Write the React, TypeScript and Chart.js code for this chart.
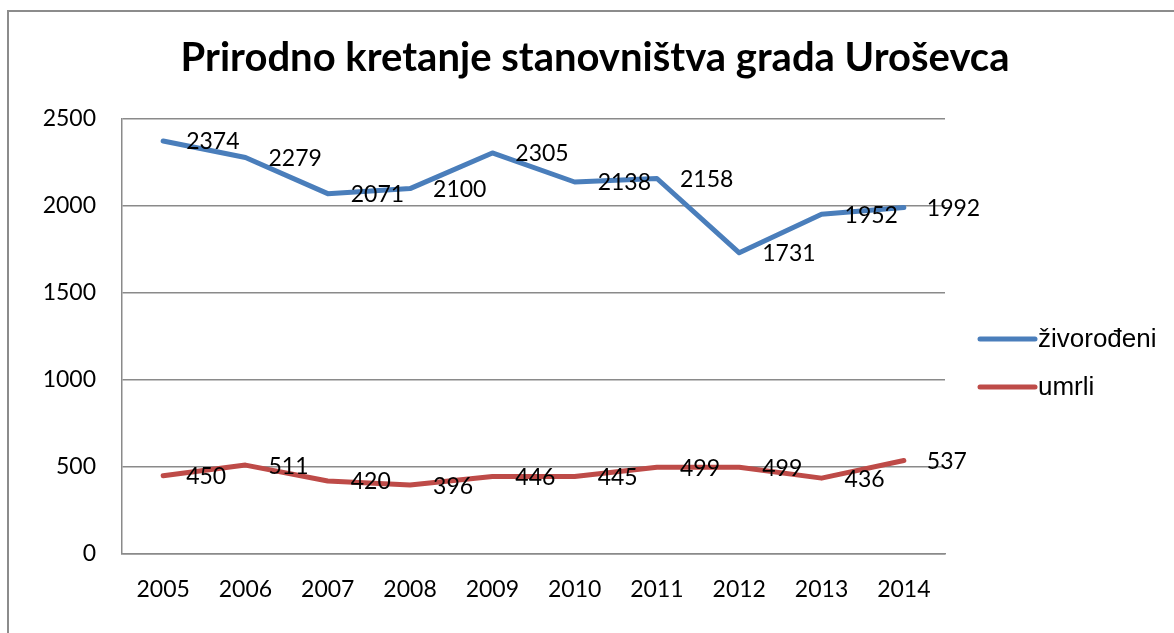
import React, { useEffect, useRef } from "react";
import { Chart, registerables } from "chart.js";

Chart.register(...registerables);

const years = ["2005", "2006", "2007", "2008", "2009", "2010", "2011", "2012", "2013", "2014"];
const zivorodeni = [2374, 2279, 2071, 2100, 2305, 2138, 2158, 1731, 1952, 1992];
const umrli = [450, 511, 420, 396, 446, 445, 499, 499, 436, 537];
const yTickValues = [0, 500, 1000, 1500, 2000, 2500];
const seriesNames = ["živorođeni", "umrli"];
const titleText = "Prirodno kretanje stanovništva grada Uroševca";

const BLUE = "#4A7EBB";
const RED = "#BE4B48";
const GRID = "#8a8a8a";
const LABEL_FONT = "Lato";

const borderPlugin = {
  id: "outerBorder",
  beforeDraw(chart: any) {
    const ctx = chart.ctx;
    ctx.save();
    ctx.fillStyle = "#8c8c8c";
    ctx.fillRect(7, 10, 2, chart.height - 10);
    ctx.fillRect(7, 10, chart.width - 7, 2);
    ctx.restore();
  },
};

const dataLabelPlugin = {
  id: "dataLabels",
  afterDatasetsDraw(chart: any) {
    const ctx = chart.ctx;
    ctx.save();
    ctx.font = `23px ${LABEL_FONT}`;
    ctx.fillStyle = "#000";
    ctx.textAlign = "left";
    ctx.textBaseline = "middle";
    chart.data.datasets.forEach((ds: any, i: number) => {
      const meta = chart.getDatasetMeta(i);
      meta.data.forEach((pt: any, j: number) => {
        ctx.fillText(String(ds.data[j]), pt.x + 23, pt.y + 1);
      });
    });
    ctx.restore();
  },
};

const legendPlugin = {
  id: "customLegend",
  afterDraw(chart: any) {
    const ctx = chart.ctx;
    const area = chart.chartArea;
    ctx.save();
    ctx.font = "26px 'Liberation Sans'";
    ctx.textAlign = "left";
    ctx.textBaseline = "middle";
    chart.data.datasets.forEach((ds: any, i: number) => {
      const y = 339 + i * 48;
      const x0 = area.right + 35;
      ctx.strokeStyle = ds.borderColor;
      ctx.lineWidth = 5;
      ctx.lineCap = "round";
      ctx.beginPath();
      ctx.moveTo(x0, y);
      ctx.lineTo(x0 + 55, y);
      ctx.stroke();
      ctx.fillStyle = "#000";
      ctx.fillText(ds.label, x0 + 58, y + 1);
    });
    ctx.restore();
  },
};

export default function App() {
  const ref = useRef<HTMLCanvasElement>(null);

  useEffect(() => {
    if (!ref.current) return;
    const chart = new Chart(ref.current, {
      type: "line",
      data: {
        labels: years,
        datasets: [
          {
            label: seriesNames[0],
            data: zivorodeni,
            borderColor: BLUE,
            backgroundColor: BLUE,
            borderWidth: 5,
            pointRadius: 0,
            tension: 0,
            borderJoinStyle: "round",
            borderCapStyle: "round",
            yAxisID: "y",
          },
          {
            label: seriesNames[1],
            data: umrli,
            borderColor: RED,
            backgroundColor: RED,
            borderWidth: 5,
            pointRadius: 0,
            tension: 0,
            borderJoinStyle: "round",
            borderCapStyle: "round",
            yAxisID: "y",
          },
        ],
      },
      options: {
        responsive: false,
        animation: false,
        layout: { padding: { left: 16, right: 0, top: 0, bottom: 0 } },
        plugins: {
          legend: { display: false },
          tooltip: { enabled: false },
          title: {
            display: true,
            text: titleText,
            color: "#000",
            font: { family: LABEL_FONT, size: 40, weight: "bold", lineHeight: 1.2 },
            padding: { top: 34, bottom: 37 },
          },
        },
        scales: {
          x: {
            type: "category",
            offset: true,
            grid: { display: false, drawTicks: false },
            border: { display: true, color: GRID, width: 1.5 },
            ticks: {
              color: "#000",
              font: { family: LABEL_FONT, size: 23 },
              padding: 22,
              maxRotation: 0,
            },
            afterFit(s: any) {
              s.height = 79;
            },
          },
          y: {
            type: "linear",
            position: "left",
            min: 0,
            max: 2500,
            afterBuildTicks(s: any) {
              s.ticks = yTickValues.map((v) => ({ value: v }));
            },
            grid: { color: GRID, lineWidth: 1.5, drawTicks: false },
            border: { display: true, color: GRID, width: 1.5 },
            ticks: {
              color: "#000",
              font: { family: LABEL_FONT, size: 23 },
              padding: 26,
              callback: (v: any) => String(v),
            },
            afterFit(s: any) {
              s.width = 106;
            },
          },
          spacer: {
            type: "linear",
            position: "right",
            display: true,
            grid: { display: false, drawTicks: false },
            border: { display: false },
            ticks: { display: false },
            afterFit(s: any) {
              s.width = 229;
            },
          },
        },
      },
      plugins: [borderPlugin, dataLabelPlugin, legendPlugin],
    } as any);
    return () => chart.destroy();
  }, []);

  return (
    <div style={{ position: "absolute", left: 0, top: 0, width: 1174, height: 633, background: "#fff" }}>
      <canvas ref={ref} width={1174} height={633} style={{ width: 1174, height: 633, display: "block" }} />
    </div>
  );
}
